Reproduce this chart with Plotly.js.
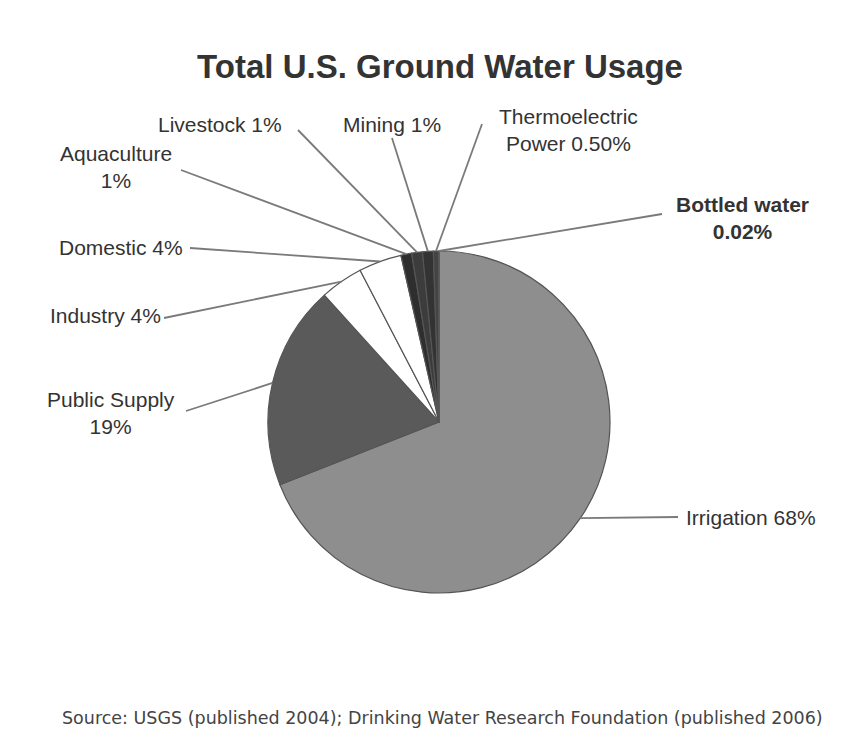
<!DOCTYPE html>
<html>
<head>
<meta charset="utf-8">
<script src="https://cdn.plot.ly/plotly-3.0.1.min.js"></script>
<style>html,body{margin:0;padding:0;background:#fff;}#chart{width:843px;height:755px;}</style>
</head>
<body>
<div id="chart"></div>
<script>
// ---- data ----
var categories = ["Irrigation", "Public Supply", "Industry", "Domestic", "Aquaculture", "Livestock", "Mining", "Thermoelectric Power", "Bottled water"];
var values = [68, 19, 4, 4, 1, 1, 1, 0.5, 0.02];
var valueLabels = ["68%", "19%", "4%", "4%", "1%", "1%", "1%", "0.50%", "0.02%"];
var sliceColors = ["#8e8e8e", "#5a5a5a", "#ffffff", "#ffffff", "#2e2e2e", "#3c3c3c", "#333333", "#444444", "#555555"];

// ---- layout (pixels) ----
var W = 843, H = 755;
var cx = 439, cy = 422, R = 171;
var labelText = [
  "Irrigation 68%", "Public Supply<br>19%", "Industry 4%", "Domestic 4%", "Aquaculture<br>1%",
  "Livestock 1%", "Mining 1%", "Thermoelectric<br>Power 0.50%", "<b>Bottled water<br>0.02%</b>"
];
var labelPos = [[751,517],[111,413],[105,316],[121,247],[116,167],[220,124],[392,124],[568,130],[742,218]];
var lineStart = [[678,517],[186,411],[164,318],[190,248],[181,170],[298,130],[392,138],[482,124],[662,214]];

function px2x(p){ return p / W; }
function py2y(p){ return 1 - p / H; }

var total = values.reduce(function(a,b){return a+b;},0);
var shapes = [], annotations = [];
var cum = 0;
for (var i = 0; i < values.length; i++) {
  var mid = (cum + values[i]/2) / total * 2 * Math.PI;
  cum += values[i];
  var ex = cx + R * Math.sin(mid), ey = cy - R * Math.cos(mid);
  shapes.push({type:"line", xref:"paper", yref:"paper",
    x0: px2x(lineStart[i][0]), y0: py2y(lineStart[i][1]), x1: px2x(ex), y1: py2y(ey),
    line:{color:"#7a7a7a", width:1.8}});
  annotations.push({xref:"paper", yref:"paper", x:px2x(labelPos[i][0]), y:py2y(labelPos[i][1]),
    text: labelText[i], showarrow:false, xanchor:"center", yanchor:"middle",
    font:{family:"Liberation Sans, Arial, sans-serif", size:21, color:"#333"}});
}
annotations.push({xref:"paper", yref:"paper", x:px2x(442), y:py2y(718),
  text:"Source: USGS (published 2004); Drinking Water Research Foundation (published 2006)",
  showarrow:false, xanchor:"center", yanchor:"middle",
  font:{family:"DejaVu Sans, sans-serif", size:17.5, color:"#444"}});

var trace = {
  type:"pie", labels:categories, values:values, sort:false, direction:"clockwise", rotation:0,
  textinfo:"none", hoverinfo:"label+percent",
  marker:{colors:sliceColors, line:{color:"#555", width:1.2}},
  domain:{x:[px2x(cx-R), px2x(cx+R)], y:[py2y(cy+R), py2y(cy-R)]},
  showlegend:false
};

var layout = {
  width:W, height:H, margin:{l:0,r:0,t:0,b:0},
  paper_bgcolor:"#fff",
  title:{text:"<b>Total U.S. Ground Water Usage</b>", x:0.522, xanchor:"center", y:1-66/H, yanchor:"middle",
    font:{family:"Liberation Sans, Arial, sans-serif", size:33, color:"#333"}},
  shapes:shapes, annotations:annotations
};
Plotly.newPlot("chart", [trace], layout, {displayModeBar:false, staticPlot:true});
</script>
</body>
</html>
